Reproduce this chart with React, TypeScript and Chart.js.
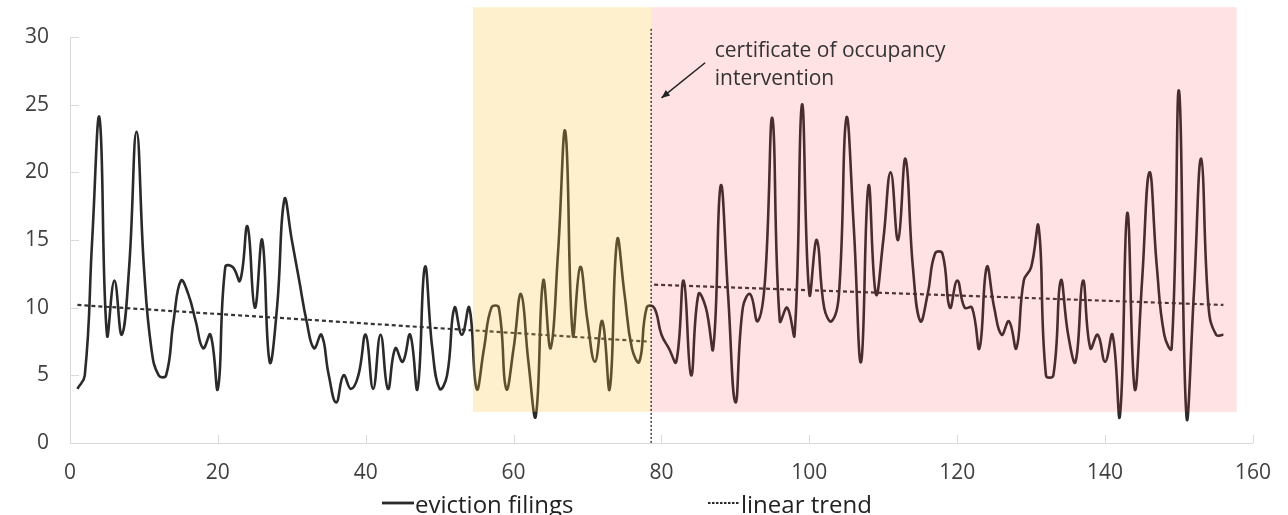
import React, { useEffect, useRef } from "react";
import { Chart, registerables } from "chart.js";

Chart.register(...registerables);

// ---- data ----
const evictionFilings: number[] = [
  4, 5, 15, 24, 8, 12, 8, 13, 23, 13,
  7, 5, 5, 9, 12, 11, 9, 7, 8, 4,
  13, 13, 12, 16, 10, 15, 6, 10, 18, 15,
  12, 9, 7, 8, 5, 3, 5, 4, 5, 8,
  4, 8, 4, 7, 6, 8, 4, 13, 7, 4,
  5, 10, 8, 10, 4, 7, 10, 10, 4, 7,
  11, 6, 2, 12, 7, 14, 23, 8, 13, 9,
  6, 9, 4, 15, 11, 7, 6, 10, 10, 8,
  7, 6, 12, 5, 11, 10, 7, 19, 11, 3,
  10, 11, 9, 12, 24, 9, 10, 8, 25, 11,
  15, 10, 9, 11, 24, 16, 6, 19, 11, 15,
  20, 15, 21, 13, 9, 11, 14, 14, 10, 12,
  10, 10, 7, 13, 10, 8, 9, 7, 12, 13,
  16, 5, 5, 12, 8, 6, 12, 7, 8, 6,
  8, 2, 17, 4, 12, 20, 13, 8, 7, 26,
  2, 11, 21, 10, 8, 8,
];
const weeks: number[] = evictionFilings.map((_, i) => i + 1);

const trendBeforeX = [1, 78];
const trendBeforeY = [10.2, 7.5];
const trendAfterX = [79, 156];
const trendAfterY = [11.7, 10.2];

const yTickValues = [0, 5, 10, 15, 20, 25, 30];
const xTickValues = [0, 20, 40, 60, 80, 100, 120, 140, 160];

const preInterventionBand = [54.5, 78.6];
const postInterventionBand = [78.6, 157.8];
const bandValueRange = [2.3, 32.2];
const interventionWeek = 78.6;
const interventionLineTop = 30.6;

const annotationLines = ["certificate of occupancy", "intervention"];
const annotationPos = [87.2, 29.0];
const arrowFrom = [85.9, 28.1];
const arrowTo = [80.0, 25.5];

const legendLabels = ["eviction filings", "linear trend"];

const FONT = "'Open Sans', sans-serif";
const LINE_COLOR = "#2a2a2a";

const decorPlugin = {
  id: "decor",
  afterDatasetsDraw(chart: any) {
    const { ctx, scales } = chart;
    const xs = scales.x;
    const ys = scales.y;
    ctx.save();
    const top = ys.getPixelForValue(bandValueRange[1]);
    const bot = ys.getPixelForValue(bandValueRange[0]);
    // yellow band
    let x0 = xs.getPixelForValue(preInterventionBand[0]);
    let x1 = xs.getPixelForValue(preInterventionBand[1]);
    ctx.fillStyle = "rgba(255,195,55,0.25)";
    ctx.fillRect(x0, top, x1 - x0, bot - top);
    // pink band
    x0 = xs.getPixelForValue(postInterventionBand[0]);
    x1 = xs.getPixelForValue(postInterventionBand[1]);
    ctx.fillStyle = "rgba(255,62,75,0.15)";
    ctx.fillRect(x0, top, x1 - x0, bot - top);

    // intervention dotted line
    const xi = xs.getPixelForValue(interventionWeek);
    ctx.strokeStyle = "#222";
    ctx.lineWidth = 1.3;
    ctx.setLineDash([2, 2]);
    ctx.beginPath();
    ctx.moveTo(xi, ys.getPixelForValue(interventionLineTop));
    ctx.lineTo(xi, ys.getPixelForValue(0));
    ctx.stroke();
    ctx.setLineDash([]);

    // arrow
    const ax0 = xs.getPixelForValue(arrowFrom[0]);
    const ay0 = ys.getPixelForValue(arrowFrom[1]);
    const ax1 = xs.getPixelForValue(arrowTo[0]);
    const ay1 = ys.getPixelForValue(arrowTo[1]);
    ctx.strokeStyle = "#222";
    ctx.fillStyle = "#222";
    ctx.lineWidth = 1.5;
    ctx.beginPath();
    ctx.moveTo(ax0, ay0);
    ctx.lineTo(ax1, ay1);
    ctx.stroke();
    const ang = Math.atan2(ay1 - ay0, ax1 - ax0);
    const hl = 9;
    ctx.beginPath();
    ctx.moveTo(ax1, ay1);
    ctx.lineTo(ax1 - hl * Math.cos(ang - 0.4), ay1 - hl * Math.sin(ang - 0.4));
    ctx.lineTo(ax1 - hl * Math.cos(ang + 0.4), ay1 - hl * Math.sin(ang + 0.4));
    ctx.closePath();
    ctx.fill();

    // annotation text
    ctx.fillStyle = "#333";
    ctx.font = `21px ${FONT}`;
    ctx.textAlign = "left";
    ctx.textBaseline = "middle";
    const tx = xs.getPixelForValue(annotationPos[0]);
    const ty = ys.getPixelForValue(annotationPos[1]);
    annotationLines.forEach((t, i) => ctx.fillText(t, tx, ty + i * 28));

    // inward tick marks
    ctx.strokeStyle = "#d9d9d9";
    ctx.lineWidth = 1;
    const left = chart.chartArea.left;
    const bottom = chart.chartArea.bottom;
    yTickValues.forEach((v) => {
      const py = Math.round(ys.getPixelForValue(v)) + 0.5;
      ctx.beginPath();
      ctx.moveTo(left, py);
      ctx.lineTo(left + 9, py);
      ctx.stroke();
    });
    xTickValues.forEach((v) => {
      const px = Math.round(xs.getPixelForValue(v)) + 0.5;
      ctx.beginPath();
      ctx.moveTo(px, bottom);
      ctx.lineTo(px, bottom - 8);
      ctx.stroke();
    });

    // legend
    const ly = 503;
    const baseline = 513;
    ctx.font = `24px ${FONT}`;
    ctx.fillStyle = "#222";
    ctx.textBaseline = "alphabetic";
    ctx.strokeStyle = LINE_COLOR;
    ctx.lineWidth = 2.8;
    ctx.beginPath();
    ctx.moveTo(382, ly);
    ctx.lineTo(414, ly);
    ctx.stroke();
    ctx.fillText(legendLabels[0], 415, baseline);
    ctx.setLineDash([2.5, 1.5]);
    ctx.lineWidth = 2;
    ctx.beginPath();
    ctx.moveTo(708, ly);
    ctx.lineTo(740, ly);
    ctx.stroke();
    ctx.setLineDash([]);
    ctx.fillText(legendLabels[1], 741, baseline);
    ctx.restore();
  },
};

export default function App() {
  const ref = useRef<HTMLCanvasElement | null>(null);
  useEffect(() => {
    if (!ref.current) return;
    const toPoints = (xs: number[], ys: number[]) => xs.map((x, i) => ({ x, y: ys[i] }));
    const chart = new Chart(ref.current, {
      type: "line",
      data: {
        datasets: [
          {
            label: legendLabels[0],
            data: toPoints(weeks, evictionFilings),
            borderColor: LINE_COLOR,
            borderWidth: 2.6,
            pointRadius: 0,
            tension: 0.45,
            fill: false,
          },
          {
            label: legendLabels[1],
            data: toPoints(trendBeforeX, trendBeforeY),
            borderColor: "#333",
            borderWidth: 2.2,
            borderDash: [4, 3],
            pointRadius: 0,
            fill: false,
          },
          {
            label: legendLabels[1] + " (after)",
            data: toPoints(trendAfterX, trendAfterY),
            borderColor: "#333",
            borderWidth: 2.2,
            borderDash: [4, 3],
            pointRadius: 0,
            fill: false,
          },
        ],
      },
      options: {
        responsive: false,
        animation: false,
        devicePixelRatio: 1,
        layout: { padding: { left: 0, right: 34, top: 37, bottom: 32 } },
        plugins: { legend: { display: false }, tooltip: { enabled: false } },
        scales: {
          x: {
            type: "linear",
            min: 0,
            max: 160,
            afterFit: (s: any) => {
              s.height = 40;
            },
            afterBuildTicks: (s: any) => {
              s.ticks = xTickValues.map((v) => ({ value: v }));
            },
            grid: { display: false, drawTicks: false },
            border: { display: true, color: "#d9d9d9", width: 1 },
            ticks: {
              padding: 17,
              color: "#404040",
              font: { family: FONT, size: 21 },
              maxRotation: 0,
            },
          },
          y: {
            min: 0,
            max: 30,
            afterFit: (s: any) => {
              s.width = 70;
            },
            afterBuildTicks: (s: any) => {
              s.ticks = yTickValues.map((v) => ({ value: v }));
            },
            grid: { display: false, drawTicks: false },
            border: { display: true, color: "#d9d9d9", width: 1 },
            ticks: {
              padding: 21,
              color: "#404040",
              font: { family: FONT, size: 21 },
            },
          },
        },
      },
      plugins: [decorPlugin],
    });
    return () => chart.destroy();
  }, []);
  return (
    <div style={{ position: "fixed", left: 0, top: 0, width: 1288, height: 515, background: "#fff" }}>
      <canvas ref={ref} width={1288} height={515} />
    </div>
  );
}
